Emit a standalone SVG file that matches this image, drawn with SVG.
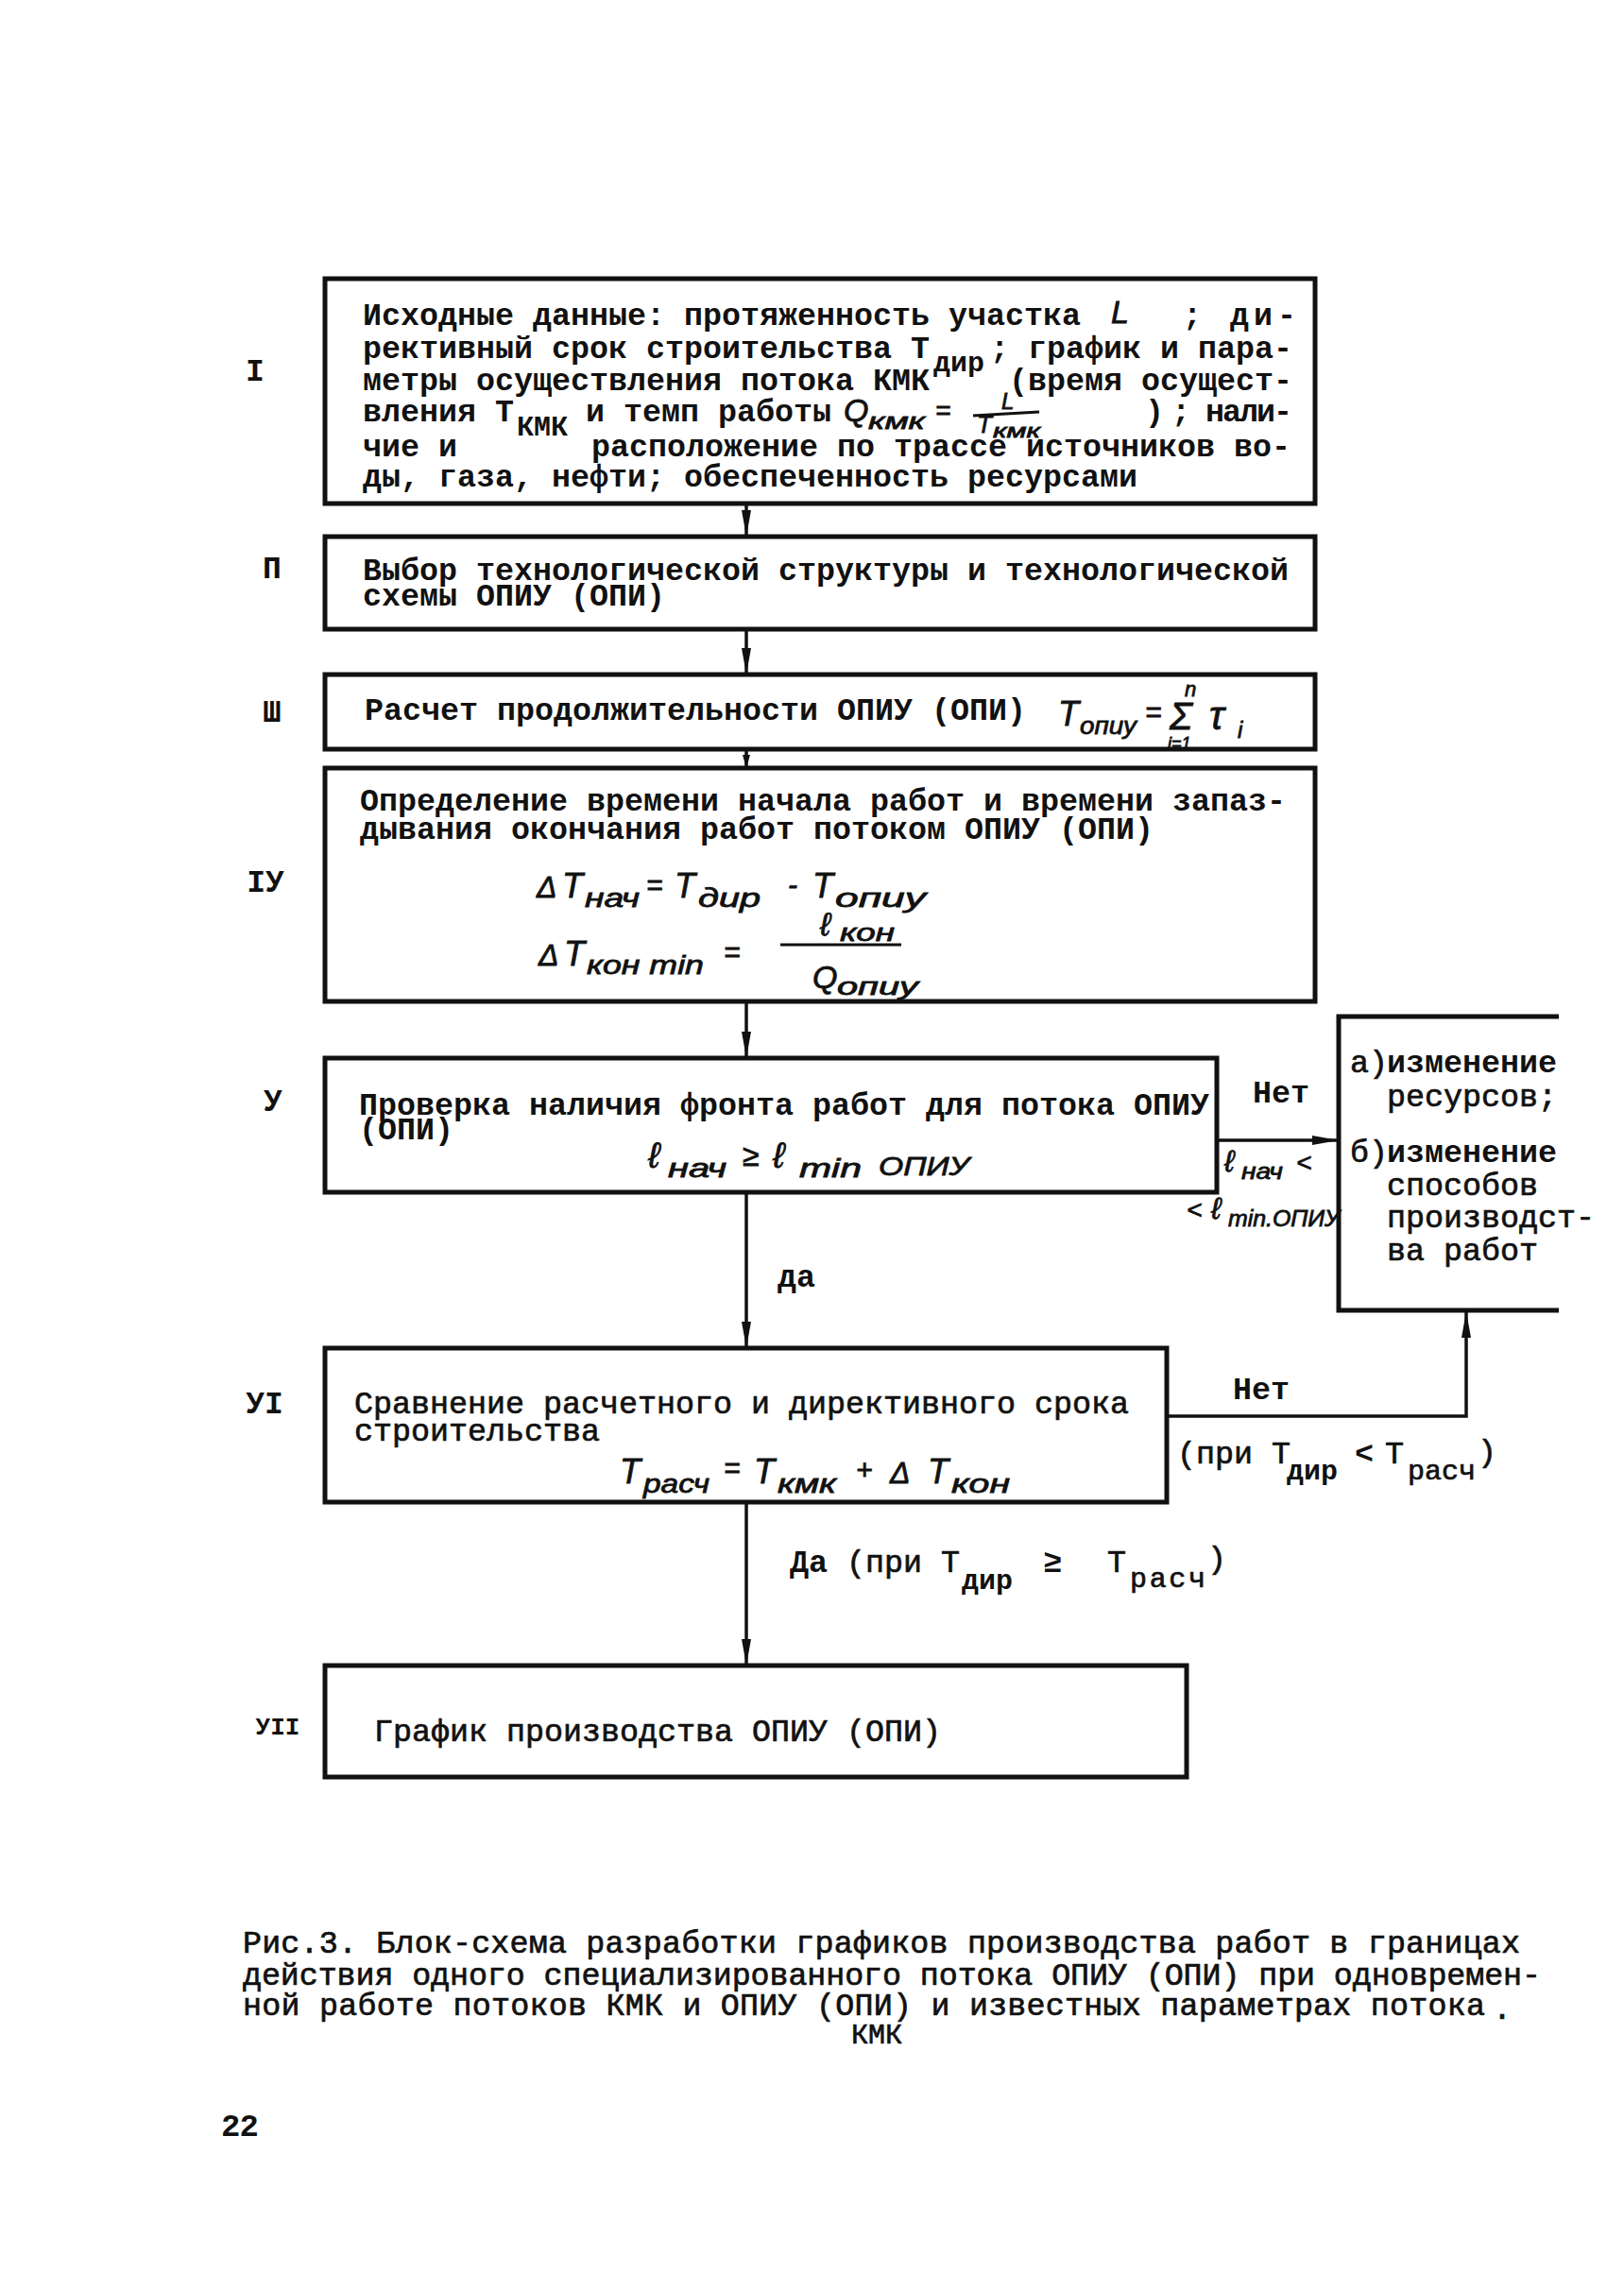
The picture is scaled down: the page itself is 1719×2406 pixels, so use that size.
<svg xmlns="http://www.w3.org/2000/svg" width="1719" height="2406" viewBox="0 0 1719 2406">
<style>
.bg{fill:#fff}
.box{fill:none;stroke:#111;stroke-width:5;stroke-linejoin:miter}
.t{font-family:"Liberation Mono","DejaVu Sans Mono",monospace;font-size:33.33px;fill:#111}
.b{font-weight:bold}
.r{stroke:#111;stroke-width:0.7}
.m{font-family:"Liberation Sans","DejaVu Sans",sans-serif;font-style:italic;font-size:34px;fill:#111;stroke:#111;stroke-width:0.8}
.conn path{fill:none;stroke:#111;stroke-width:3.5}
.lbl{font-family:"Liberation Mono","DejaVu Sans Mono",monospace;font-weight:bold;font-size:33px;fill:#111;text-anchor:middle}
</style>
<defs>
<marker id="ah" markerUnits="userSpaceOnUse" markerWidth="30" markerHeight="14" refX="28" refY="7" orient="auto"><path d="M0,2 L28,7 L0,12 z" fill="#111"/></marker>
<marker id="ahs" markerUnits="userSpaceOnUse" markerWidth="16" markerHeight="10" refX="14" refY="5" orient="auto"><path d="M0,1 L14,5 L0,9 z" fill="#111"/></marker>
</defs>
<rect class="bg" x="0" y="0" width="1719" height="2406"/>

<g id="connectors" class="conn">
<path d="M790,533 V568" marker-end="url(#ah)"/>
<path d="M790,666 V714" marker-end="url(#ah)"/>
<path d="M790,793 V813" marker-end="url(#ahs)"/>
<path d="M790,1060 V1120" marker-end="url(#ah)"/>
<path d="M790,1262 V1427" marker-end="url(#ah)"/>
<path d="M790,1590 V1763" marker-end="url(#ah)"/>
<path d="M1288,1207 H1417" marker-end="url(#ah)"/>
<path d="M1235,1499 H1552 V1388" marker-end="url(#ah)"/>
<text class="t b" x="1326" y="1167">Нет</text>
<text class="m" x="1296" y="1240" style="font-size:32px">ℓ</text>
<text class="m" x="1314" y="1248" style="font-size:24px" textLength="44" lengthAdjust="spacingAndGlyphs">нач</text>
<text class="m" x="1372" y="1240" style="font-size:28px">&lt;</text>
<text class="m" x="1256" y="1290" style="font-size:28px">&lt;</text>
<text class="m" x="1282" y="1290" style="font-size:32px">ℓ</text>
<text class="m" x="1300" y="1298" style="font-size:24px" textLength="118" lengthAdjust="spacingAndGlyphs">min.ОПИУ</text>
<text class="t b" x="823" y="1362">да</text>
<text class="t b" x="1305" y="1481">Нет</text>
<text class="t r" x="1246" y="1549">(при Т</text>
<text class="t b" x="1362" y="1566" style="font-size:30px">дир</text>
<text class="t b" x="1434" y="1549">&lt;</text>
<text class="t r" x="1466" y="1549">Т</text>
<text class="t r" x="1490" y="1566" style="font-size:30px" textLength="72">расч</text>
<text class="t r" x="1564" y="1547">)</text>
<text class="t b" x="836" y="1664">Да</text>
<text class="t r" x="896" y="1664">(при Т</text>
<text class="t b" x="1018" y="1682" style="font-size:30px">дир</text>
<text class="t b" x="1104" y="1664">≥</text>
<text class="t r" x="1172" y="1664">Т</text>
<text class="t r" x="1196" y="1680" style="font-size:30px" textLength="80">расч</text>
<text class="t r" x="1278" y="1660">)</text>
</g>

<g id="node1">
<rect class="box" x="344" y="295" width="1048" height="238"/>
<text class="t b" x="384" y="344">Исходные данные: протяженность участка</text>
<text class="m" x="1176" y="342">L</text>
<text class="t b" x="1252" y="344" textLength="120">; ди-</text>
<text class="t b" x="384" y="379">рективный срок строительства Т</text>
<text class="t b" x="988" y="393" style="font-size:30px">дир</text>
<text class="t b" x="1048" y="379">; график и пара-</text>
<text class="t b" x="384" y="413">метры осуществления потока КМК</text>
<text class="t b" x="1068" y="413">(время осущест-</text>
<text class="t b" x="384" y="446">вления Т</text>
<text class="t b" x="547" y="461" style="font-size:30px">КМК</text>
<text class="t b" x="620" y="446">и темп работы</text>
<text class="m" x="893" y="446" style="font-size:34px">Q</text>
<text class="m" x="919" y="454" style="font-size:24px" textLength="60" lengthAdjust="spacingAndGlyphs">кмк</text>
<text class="m" x="990" y="444" style="font-size:28px">=</text>
<text class="m" x="1060" y="433" style="font-size:24px">L</text>
<path d="M1030,440 L1100,436" stroke="#111" stroke-width="3"/>
<text class="m" x="1034" y="458" style="font-size:26px">T</text>
<text class="m" x="1051" y="463" style="font-size:20px" textLength="50" lengthAdjust="spacingAndGlyphs">кмк</text>
<text class="t b" x="1212" y="446">)</text>
<text class="t b" x="1240" y="446" textLength="128">; нали-</text>
<text class="t b" x="384" y="483">чие и</text>
<text class="t b" x="626" y="483">расположение по трассе источников во-</text>
<text class="t b" x="384" y="515">ды, газа, нефти; обеспеченность ресурсами</text>
</g>

<g id="node2">
<rect class="box" x="344" y="568" width="1048" height="98"/>
<text class="t b" x="384" y="614">Выбор технологической структуры и технологической</text>
<text class="t b" x="384" y="641">схемы ОПИУ (ОПИ)</text>
</g>

<g id="node3">
<rect class="box" x="344" y="714" width="1048" height="79"/>
<text class="t b" x="386" y="762">Расчет продолжительности ОПИУ (ОПИ)</text>
<text class="m" x="1120" y="768" style="font-size:36px">T</text>
<text class="m" x="1143" y="777" style="font-size:26px" textLength="60" lengthAdjust="spacingAndGlyphs">опиу</text>
<text class="m" x="1212" y="764" style="font-size:30px">=</text>
<text class="m" x="1238" y="772" style="font-size:40px">Σ</text>
<text class="m" x="1254" y="737" style="font-size:22px">n</text>
<text class="m" x="1236" y="793" style="font-size:18px">i=1</text>
<text class="m" x="1280" y="772" style="font-size:42px">τ</text>
<text class="m" x="1310" y="781" style="font-size:24px">i</text>
</g>

<g id="node4">
<rect class="box" x="344" y="813" width="1048" height="247"/>
<text class="t b" x="381" y="858">Определение времени начала работ и времени запаз-</text>
<text class="t b" x="381" y="888">дывания окончания работ потоком ОПИУ (ОПИ)</text>
<text class="m" x="568" y="950" style="font-size:32px">Δ</text>
<text class="m" x="595" y="950" style="font-size:36px">T</text>
<text class="m" x="619" y="960" style="font-size:28px" textLength="58" lengthAdjust="spacingAndGlyphs">нач</text>
<text class="m" x="684" y="947" style="font-size:30px">=</text>
<text class="m" x="714" y="950" style="font-size:36px">T</text>
<text class="m" x="739" y="960" style="font-size:28px" textLength="66" lengthAdjust="spacingAndGlyphs">дир</text>
<text class="m" x="834" y="947" style="font-size:30px">-</text>
<text class="m" x="860" y="950" style="font-size:36px">T</text>
<text class="m" x="884" y="960" style="font-size:28px" textLength="96" lengthAdjust="spacingAndGlyphs">опиу</text>
<text class="m" x="570" y="1022" style="font-size:32px">Δ</text>
<text class="m" x="597" y="1022" style="font-size:36px">T</text>
<text class="m" x="621" y="1031" style="font-size:28px" textLength="124" lengthAdjust="spacingAndGlyphs">кон min</text>
<text class="m" x="766" y="1018" style="font-size:30px">=</text>
<path d="M826,1000 H954" stroke="#111" stroke-width="3"/>
<text class="m" x="868" y="990" style="font-size:34px">ℓ</text>
<text class="m" x="889" y="996" style="font-size:26px" textLength="58" lengthAdjust="spacingAndGlyphs">кон</text>
<text class="m" x="860" y="1046" style="font-size:34px">Q</text>
<text class="m" x="886" y="1053" style="font-size:26px" textLength="86" lengthAdjust="spacingAndGlyphs">опиу</text>
</g>

<g id="node5">
<rect class="box" x="344" y="1120" width="944" height="142"/>
<text class="t b" x="380" y="1180">Проверка наличия фронта работ для потока ОПИУ</text>
<text class="t b" x="380" y="1206">(ОПИ)</text>
<text class="m" x="686" y="1236" style="font-size:38px">ℓ</text>
<text class="m" x="707" y="1246" style="font-size:28px" textLength="62" lengthAdjust="spacingAndGlyphs">нач</text>
<text class="m" x="786" y="1234" style="font-size:32px">≥</text>
<text class="m" x="818" y="1236" style="font-size:38px">ℓ</text>
<text class="m" x="846" y="1246" style="font-size:28px" textLength="66" lengthAdjust="spacingAndGlyphs">min</text>
<text class="m" x="930" y="1244" style="font-size:28px" textLength="96" lengthAdjust="spacingAndGlyphs">ОПИУ</text>
</g>

<g id="node6">
<path class="box" d="M1650,1076 H1417 V1387 H1650"/>
<text class="t r" x="1429" y="1135">а)</text>
<text class="t b" x="1468" y="1135">изменение</text>
<text class="t r" x="1468" y="1171">ресурсов;</text>
<text class="t r" x="1429" y="1230">б)</text>
<text class="t b" x="1468" y="1230">изменение</text>
<text class="t r" x="1468" y="1265">способов</text>
<text class="t r" x="1468" y="1299">производст-</text>
<text class="t r" x="1468" y="1334">ва работ</text>
</g>

<g id="node7">
<rect class="box" x="344" y="1427" width="891" height="163"/>
<text class="t r" x="375" y="1496">Сравнение расчетного и директивного срока</text>
<text class="t r" x="375" y="1525">строительства</text>
<text class="m" x="656" y="1570" style="font-size:36px">T</text>
<text class="m" x="681" y="1580" style="font-size:28px" textLength="70" lengthAdjust="spacingAndGlyphs">расч</text>
<text class="m" x="766" y="1564" style="font-size:30px">=</text>
<text class="m" x="798" y="1570" style="font-size:36px">T</text>
<text class="m" x="823" y="1580" style="font-size:28px" textLength="62" lengthAdjust="spacingAndGlyphs">кмк</text>
<text class="m" x="906" y="1566" style="font-size:30px">+</text>
<text class="m" x="942" y="1570" style="font-size:32px">Δ</text>
<text class="m" x="982" y="1570" style="font-size:36px">T</text>
<text class="m" x="1007" y="1580" style="font-size:28px" textLength="62" lengthAdjust="spacingAndGlyphs">кон</text>
</g>

<g id="node8">
<rect class="box" x="344" y="1763" width="912" height="118"/>
<text class="t r" x="396" y="1843">График производства ОПИУ (ОПИ)</text>
</g>

<g id="labels">
<text class="lbl" x="270" y="403">I</text>
<text class="lbl" x="288" y="612">П</text>
<text class="lbl" x="288" y="764">Ш</text>
<text class="lbl" x="281" y="944">IУ</text>
<text class="lbl" x="289" y="1176">У</text>
<text class="lbl" x="280" y="1496">УI</text>
<text class="lbl" x="294" y="1836" style="font-size:26px">УII</text>
</g>

<g id="caption">
<text class="t r" x="257" y="2067" textLength="1352">Рис.3. Блок-схема разработки графиков производства работ в границах</text>
<text class="t r" x="257" y="2101" textLength="1374">действия одного специализированного потока ОПИУ (ОПИ) при одновремен-</text>
<text class="t r" x="257" y="2133" textLength="1315">ной работе потоков КМК и ОПИУ (ОПИ) и известных параметрах потока</text>
<text class="t r" x="1580" y="2137">.</text>
<text class="t r" x="901" y="2163" style="font-size:30px">КМК</text>
<text class="t b" x="234" y="2261" style="font-size:34px" textLength="40">22</text>
</g>
</svg>
